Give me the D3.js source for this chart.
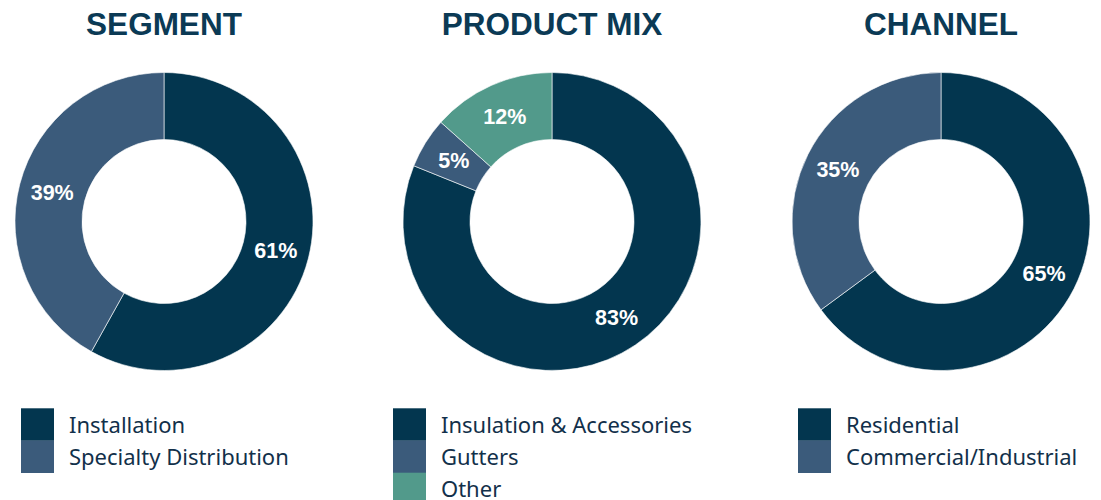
<!DOCTYPE html>
<html>
<head>
<meta charset="utf-8">
<script src="https://cdn.jsdelivr.net/npm/d3@7"></script>
<style>
  body { margin: 0; background: #fff; }
  svg { display: block; }
</style>
</head>
<body>
<div id="chart"></div>
<script>
(function(){

  var width = 1101;
  var height = 500;

  // data
  var titles = ["SEGMENT", "PRODUCT MIX", "CHANNEL"];

  var segmentCats = ["Installation", "Specialty Distribution"];
  var segmentVals = [58.1, 41.9];
  var segmentLabels = ["61%", "39%"];

  var productCats = ["Insulation & Accessories", "Gutters", "Other"];
  var productVals = [81.1, 5.5, 13.4];
  var productLabels = ["83%", "5%", "12%"];

  var channelCats = ["Residential", "Commercial/Industrial"];
  var channelVals = [64.9, 35.1];
  var channelLabels = ["65%", "35%"];

  var colors = ["#03364f", "#3b5b7b", "#529a8b"];

  var charts = [
    {title: titles[0], cats: segmentCats, vals: segmentVals, labels: segmentLabels},
    {title: titles[1], cats: productCats, vals: productVals, labels: productLabels},
    {title: titles[2], cats: channelCats, vals: channelVals, labels: channelLabels}
  ];

  // layout
  var centers = [164, 552, 941];
  var cy = 221.5;
  var rOuter = 149;
  var rInner = 82;
  var rLabel = 115.5;
  var legendX = [21, 393, 798];
  var legendY = 408.3;
  var box = 32.2;

  var svg = d3.select("#chart")
    .append("svg")
    .attr("width", width)
    .attr("height", height);

  var pie = d3.pie().sort(null).value(function(d){ return d; });
  var arc = d3.arc().innerRadius(rInner).outerRadius(rOuter);
  var labelArc = d3.arc().innerRadius(rLabel).outerRadius(rLabel);

  charts.forEach(function(c, i) {
    var g = svg.append("g")
      .attr("transform", "translate(" + centers[i] + "," + cy + ")");

    svg.append("text")
      .attr("x", centers[i])
      .attr("y", 35)
      .attr("text-anchor", "middle")
      .style("font-family", "'Liberation Sans', Arial, sans-serif")
      .style("font-weight", "bold")
      .style("font-size", "31.5px")
      .style("fill", "#0b3a55")
      .text(c.title);

    var slices = pie(c.vals);

    g.selectAll("path")
      .data(slices)
      .enter()
      .append("path")
      .attr("d", arc)
      .style("fill", function(d, j){ return colors[j]; })
      .style("stroke", "#ffffff")
      .style("stroke-width", 0.6);

    g.selectAll("text.pct")
      .data(slices)
      .enter()
      .append("text")
      .attr("class", "pct")
      .attr("transform", function(d){ return "translate(" + labelArc.centroid(d) + ")"; })
      .attr("text-anchor", "middle")
      .attr("dy", "0.36em")
      .style("font-family", "'Liberation Sans', Arial, sans-serif")
      .style("font-weight", "bold")
      .style("font-size", "21.5px")
      .style("fill", "#ffffff")
      .text(function(d, j){ return c.labels[j]; });

    var legend = svg.append("g")
      .attr("transform", "translate(" + legendX[i] + "," + legendY + ")");

    var rows = legend.selectAll("g")
      .data(c.cats)
      .enter()
      .append("g")
      .attr("transform", function(d, j){ return "translate(0," + (j * box) + ")"; });

    rows.append("rect")
      .attr("width", 33)
      .attr("height", box + 0.3)
      .style("fill", function(d, j){ return colors[j]; });

    rows.append("text")
      .attr("x", 48)
      .attr("y", 24.5)
      .style("font-family", "'Noto Sans', sans-serif")
      .style("font-size", "22px")
      .style("fill", "#12304a")
      .text(function(d){ return d; });
  });

})();
</script>
</body>
</html>
